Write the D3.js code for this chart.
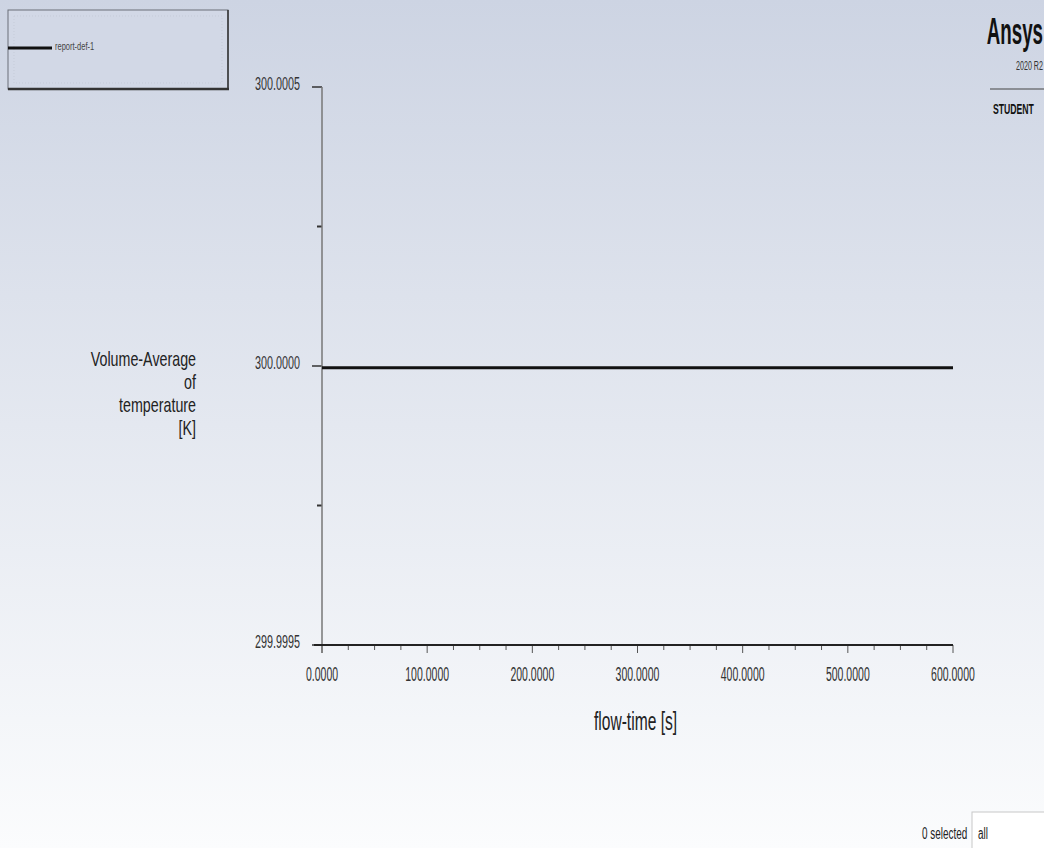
<!DOCTYPE html>
<html>
<head>
<meta charset="utf-8">
<script src="https://cdn.jsdelivr.net/npm/d3@7"></script>
<style>
  html, body { margin: 0; padding: 0; }
  body { width: 1044px; height: 848px; overflow: hidden; }
  text { font-family: "Liberation Sans", Arial, sans-serif; }
</style>
</head>
<body>
<svg id="chart" width="1044" height="848"></svg>
<script>
// report-def-1 : volume-average of temperature vs flow-time
const flowTime = [0, 100, 200, 300, 400, 500, 600];
const temperature = [299.999997, 299.999997, 299.999997, 299.999997, 299.999997, 299.999997, 299.999997];
const xTicks = [0, 100, 200, 300, 400, 500, 600];
const yTicks = [299.9995, 300.0000, 300.0005];
const seriesName = "report-def-1";
const yTitle = ["Volume-Average", "of", "temperature", "[K]"];
const xTitle = "flow-time [s]";

const svg = d3.select("#chart");
const width = 1044;
const height = 848;

// fluent uses a narrow font, so squeeze the text horizontally
const squeeze = (sel, px, py, sx) =>
    sel.attr("x", 0).attr("y", 0)
        .attr("transform", (d, i) => {
            const tx = typeof px == "function" ? px(d, i) : px;
            const ty = typeof py == "function" ? py(d, i) : py;
            return `translate(${tx},${ty}) scale(${sx},1)`;
        });

// background gradient like the fluent window
const defs = svg.append("defs");
const grad = defs.append("linearGradient")
    .attr("id", "bg")
    .attr("x1", 0).attr("y1", 0).attr("x2", 0).attr("y2", 1);
grad.append("stop").attr("offset", "0%").attr("stop-color", "#cdd4e3");
grad.append("stop").attr("offset", "100%").attr("stop-color", "#fbfcfd");
svg.append("rect").attr("width", width).attr("height", height).attr("fill", "url(#bg)");

const x = d3.scaleLinear().domain([0, 600]).range([322, 953]);
const y = d3.scaleLinear().domain([299.9995, 300.0005]).range([645, 87]);

const g = svg.append("g");
// x ticks every 25 s, longer on the labelled ones
g.selectAll(".xminor")
    .data(d3.range(0, 601, 25))
    .join("line")
    .attr("x1", (d) => x(d)).attr("x2", (d) => x(d))
    .attr("y1", y(299.9995)).attr("y2", (d) => y(299.9995) + (d % 100 == 0 ? 8 : 5))
    .attr("stroke", "#555").attr("stroke-width", 1);

g.selectAll(".yminor")
    .data([299.99975, 300.00025])
    .join("line")
    .attr("x1", x(0) - 5).attr("x2", x(0))
    .attr("y1", (d) => y(d)).attr("y2", (d) => y(d))
    .attr("stroke", "#333").attr("stroke-width", 2);

g.selectAll(".ymajor")
    .data(yTicks)
    .join("line")
    .attr("x1", x(0) - 10).attr("x2", x(0))
    .attr("y1", (d) => y(d)).attr("y2", (d) => y(d))
    .attr("stroke", "#333").attr("stroke-width", 1.5);

// axes lines
g.append("line")
    .attr("x1", x(0)).attr("x2", x(0))
    .attr("y1", y(300.0005)).attr("y2", y(299.9995) + 8)
    .attr("stroke", "#777").attr("stroke-width", 1.5);
g.append("line")
    .attr("x1", x(0) - 8).attr("x2", x(600))
    .attr("y1", y(299.9995)).attr("y2", y(299.9995))
    .attr("stroke", "#222").attr("stroke-width", 2);

// tick labels
g.selectAll(".ylab")
    .data(yTicks)
    .join("text")
    .call(squeeze, 300, (d) => y(d) + 3, 0.6)
    .attr("text-anchor", "end")
    .attr("font-size", 18)
    .attr("fill", "#333")
    .text((d) => d3.format(".4f")(d));

g.selectAll(".xlab")
    .data(xTicks)
    .join("text")
    .call(squeeze, (d) => x(d), 681, 0.5)
    .attr("text-anchor", "middle")
    .attr("font-size", 21)
    .attr("fill", "#333")
    .text((d) => d3.format(".4f")(d));

// titles
svg.append("text")
    .call(squeeze, x(300) - 2, 730, 0.6)
    .attr("text-anchor", "middle")
    .attr("font-size", 26)
    .attr("fill", "#222")
    .text(xTitle);

svg.selectAll(".ytitle")
    .data(yTitle)
    .join("text")
    .call(squeeze, 196, (d, i) => 366 + i * 23, 0.68)
    .attr("text-anchor", "end")
    .attr("font-size", 21)
    .attr("fill", "#222")
    .text((d) => d);

// data line
const line = d3.line().x((d, i) => x(flowTime[i])).y((d) => y(d));
svg.append("path")
    .datum(temperature)
    .attr("d", line)
    .attr("fill", "none")
    .attr("stroke", "#111")
    .attr("stroke-width", 3);

// legend box
const leg = svg.append("g");
leg.append("rect")
    .attr("x", 8).attr("y", 10).attr("width", 220).attr("height", 79)
    .attr("fill", "#d2d8e6")
    .attr("stroke", "#6a6f78");
leg.append("rect")
    .attr("x", 14).attr("y", 16).attr("width", 208).attr("height", 67)
    .attr("fill", "none")
    .attr("stroke", "#c5cbd8")
    .attr("stroke-dasharray", "1,2");
leg.append("line")
    .attr("x1", 8).attr("x2", 229).attr("y1", 89).attr("y2", 89)
    .attr("stroke", "#333").attr("stroke-width", 2.5);
leg.append("line")
    .attr("x1", 228).attr("x2", 228).attr("y1", 10).attr("y2", 90)
    .attr("stroke", "#333").attr("stroke-width", 1.5);
leg.append("line")
    .attr("x1", 8).attr("x2", 52).attr("y1", 48).attr("y2", 48)
    .attr("stroke", "#111").attr("stroke-width", 3);
leg.append("text")
    .call(squeeze, 55, 50, 0.75)
    .attr("font-size", 10)
    .attr("fill", "#444")
    .text(seriesName);

// ansys logo
const logo = svg.append("g");
logo.append("text")
    .call(squeeze, 1043, 44, 0.52)
    .attr("text-anchor", "end")
    .attr("font-family", "Open Sans, sans-serif")
    .attr("font-weight", "bold")
    .attr("font-size", 36)
    .attr("fill", "#111")
    .text("Ansys");
logo.append("text")
    .call(squeeze, 1043, 70, 0.55)
    .attr("text-anchor", "end")
    .attr("font-size", 13)
    .attr("fill", "#333")
    .text("2020 R2");
logo.append("line")
    .attr("x1", 990).attr("x2", 1044).attr("y1", 89).attr("y2", 89)
    .attr("stroke", "#444").attr("stroke-width", 1.2);
logo.append("text")
    .call(squeeze, 993, 114, 0.62)
    .attr("font-family", "Open Sans, sans-serif")
    .attr("font-weight", "bold")
    .attr("font-size", 14)
    .attr("fill", "#111")
    .text("STUDENT");

// selection box bottom right
svg.append("text")
    .call(squeeze, 922, 839, 0.62)
    .attr("font-size", 16)
    .attr("fill", "#222")
    .text("0 selected");
svg.append("rect")
    .attr("x", 972).attr("y", 812).attr("width", 80).attr("height", 40)
    .attr("fill", "#ffffff")
    .attr("stroke", "#c8c8c8");
svg.append("text")
    .call(squeeze, 978, 839, 0.62)
    .attr("font-size", 16)
    .attr("fill", "#222")
    .text("all");
</script>
</body>
</html>
